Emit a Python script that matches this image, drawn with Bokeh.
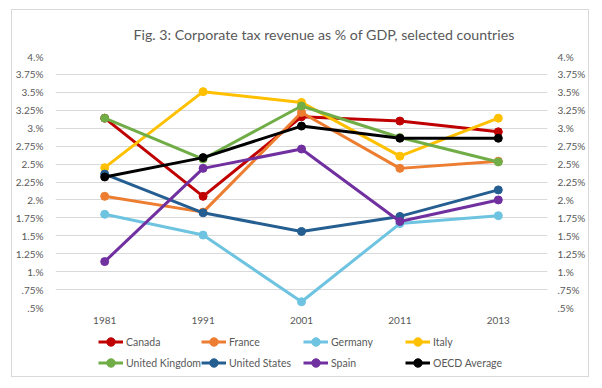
from bokeh.plotting import figure
from bokeh.layouts import column
from bokeh.models import (Range1d, FixedTicker, LinearAxis, Legend, LegendItem, Title)
from bokeh.embed import file_html
from bokeh.resources import INLINE

years = ["1981", "1991", "2001", "2011", "2013"]
canada = [3.14, 2.05, 3.16, 3.10, 2.95]
france = [2.05, 1.83, 3.22, 2.44, 2.54]
germany = [1.80, 1.51, 0.58, 1.67, 1.78]
italy = [2.45, 3.51, 3.36, 2.61, 3.14]
uk = [3.14, 2.57, 3.31, 2.87, 2.53]
us = [2.36, 1.82, 1.56, 1.77, 2.14]
spain = [1.14, 2.44, 2.71, 1.70, 2.00]
oecd = [2.32, 2.59, 3.03, 2.86, 2.86]

series_names = ["Canada", "France", "Germany", "Italy", "United Kingdom",
                "United States", "Spain", "OECD Average"]
series_values = [canada, france, germany, italy, uk, us, spain, oecd]
colors = ["#C00000", "#ED7D31", "#6EC4E0", "#FFC000", "#70AD47",
          "#255E91", "#7030A0", "#000000"]

tick_values = [0.5, 0.75, 1.0, 1.25, 1.5, 1.75, 2.0, 2.25, 2.5, 2.75,
               3.0, 3.25, 3.5, 3.75, 4.0]
tick_labels = [".5%", ".75%", "1.%", "1.25%", "1.5%", "1.75%", "2.%", "2.25%",
               "2.5%", "2.75%", "3.%", "3.25%", "3.5%", "3.75%", "4.%"]

FONT = "Lato"
GREY = "#595959"

p = figure(x_range=years, y_range=Range1d(0.5, 4.0),
           width=576, height=321,
           output_backend="svg", toolbar_location=None,
           min_border_left=36, min_border_right=41, min_border_top=43,
           min_border_bottom=24)
p.outline_line_color = None

t = Title(text="Fig. 3: Corporate tax revenue as % of GDP, selected countries",
          align="left", text_font=FONT, text_font_size="14.2px",
          text_color=GREY, text_font_style="normal", offset=78, standoff=27)
p.title = t

overrides = {v: l for v, l in zip(tick_values, tick_labels)}

p.yaxis.ticker = FixedTicker(ticks=tick_values)
p.yaxis.major_label_overrides = overrides
right_axis = LinearAxis(ticker=FixedTicker(ticks=tick_values),
                        major_label_overrides=overrides)
p.add_layout(right_axis, "right")

for ax in [p.yaxis[0], right_axis, p.xaxis[0]]:
    ax.axis_line_color = None
    ax.major_tick_line_color = None
    ax.minor_tick_line_color = None
    ax.major_tick_out = 0
    ax.major_tick_in = 0
    ax.minor_tick_out = 0
    ax.major_label_text_font = FONT
    ax.major_label_text_font_size = "10px"
    ax.major_label_text_color = GREY
p.yaxis[0].major_label_standoff = 12
right_axis.major_label_standoff = 10
p.xaxis[0].major_label_standoff = 9

p.xgrid.grid_line_color = None
p.ygrid.ticker = FixedTicker(ticks=tick_values)
p.ygrid.grid_line_color = "#d9d9d9"
p.ygrid.grid_line_width = 1

for name, vals, c in zip(series_names, series_values, colors):
    p.line(years, vals, line_color=c, line_width=3)
    p.scatter(years, vals, size=8, fill_color=c, line_color=c)

# legend strip below the chart (placeholder renderers carry no data)
p2 = figure(width=576, height=45, x_range=Range1d(0, 1), y_range=Range1d(0, 1),
            output_backend="svg", toolbar_location=None,
            x_axis_type=None, y_axis_type=None,
            min_border_left=0, min_border_right=0, min_border_top=0,
            min_border_bottom=0)
p2.outline_line_color = None
p2.grid.grid_line_color = None
nan = float("nan")
items = []
for name, c in zip(series_names, colors):
    lr = p2.line([nan], [nan], line_color=c, line_width=3)
    cr = p2.scatter([nan], [nan], size=8, fill_color=c, line_color=c)
    items.append(LegendItem(label=name, renderers=[lr, cr]))

legend = Legend(items=items, nrows=2, orientation="horizontal",
                glyph_width=25, glyph_height=21, label_height=21,
                label_width=74, label_standoff=3, spacing=0, padding=0,
                margin=0, border_line_color=None, location=(43, 3),
                label_text_font=FONT, label_text_font_size="10.5px",
                label_text_color=GREY, background_fill_alpha=0)
p2.add_layout(legend, "center")

layout = column(p, p2, spacing=0, margin=(9, 0, 0, 11),
                styles={"border": "1px solid #d9d9d9"})

open("out.html", "w").write(file_html(layout, INLINE))
